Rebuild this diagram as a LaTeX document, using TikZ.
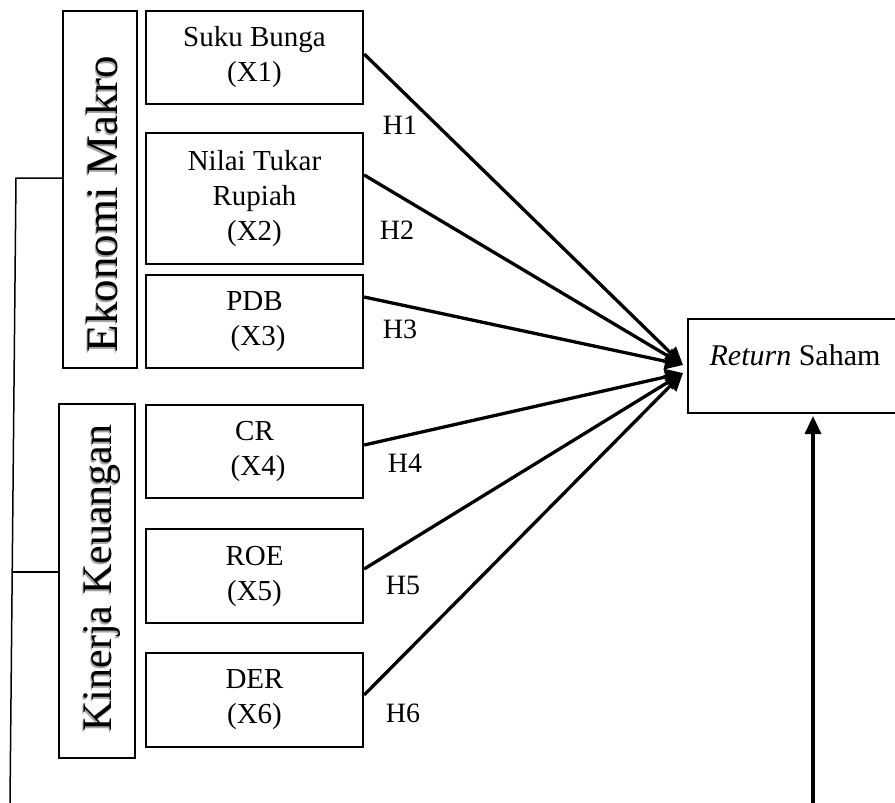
\documentclass[tikz,border=0pt]{standalone}
\usepackage{fontspec}
\setmainfont{Liberation Serif}
\usetikzlibrary{arrows.meta}
\begin{document}
\begin{tikzpicture}[x=1pt,y=-1pt,
  var/.style={draw,line width=2.3pt,minimum width=217pt,align=center,inner sep=0pt,
    font=\fontsize{29}{35}\selectfont},
  grp/.style={draw,line width=2.3pt,inner sep=0pt},
  grptext/.style={rotate=90,inner sep=0pt},
  grpshadow/.style={rotate=90,inner sep=0pt,text=black!35},
  conn/.style={line width=3.3pt,-{Triangle[length=18pt,width=16pt]}},
  hyp/.style={inner sep=0pt,font=\fontsize{28}{30}\selectfont},
  brk/.style={line width=1.5pt}]
\useasboundingbox (0,0) rectangle (895,803);

% group boxes
\node[grp,minimum width=74pt,minimum height=357pt] (g1) at (100,189.5) {};
\node[grpshadow,font=\fontsize{45}{45}\selectfont] (g1s) at (101,206) {Ekonomi Makro};
\node[grptext,font=\fontsize{45}{45}\selectfont] (g1t) at (102.5,204) {Ekonomi Makro};
\node[grp,minimum width=76pt,minimum height=354pt] (g2) at (97,581) {};
\node[grpshadow,font=\fontsize{42}{42}\selectfont] (g2s) at (101,580) {Kinerja Keuangan};
\node[grptext,font=\fontsize{42}{42}\selectfont] (g2t) at (102.5,578) {Kinerja Keuangan};

% variable boxes
\node[var,minimum height=93pt]  (b1) at (254.5,57.5)  {Suku Bunga\\(X1)};
\node[var,minimum height=131pt] (b2) at (254.5,198.5) {Nilai Tukar\\Rupiah\\(X2)};
\node[var,minimum height=93pt]  (b3) at (254.5,321.5) {PDB\\\ (X3)};
\node[var,minimum height=93pt]  (b4) at (254.5,451.5) {CR\\\ (X4)};
\node[var,minimum height=94pt]  (b5) at (254.5,576)   {ROE\\(X5)};
\node[var,minimum height=94pt]  (b6) at (254.5,700)   {DER\\(X6)};

% dependent variable
\node[draw,line width=2.3pt,minimum width=210pt,minimum height=94pt,inner sep=0pt] (ret) at (793,366) {};
\node[inner sep=0pt,font=\fontsize{30}{30}\selectfont] (rett) at (795,355) {\textit{Return} Saham};

% convergence points
\coordinate (t1) at (683,365);
\coordinate (t2) at (683,373);

\draw[conn] ([yshift=3.5pt]b1.east) -- (t1);
\draw[conn] ([yshift=23.5pt]b2.east) -- (t1);
\draw[conn] ([yshift=24.5pt]b3.east) -- (t1);
\draw[conn] ([yshift=6.5pt]b4.east) -- (t2);
\draw[conn] ([yshift=7pt]b5.east) -- (t2);
\draw[conn] ([yshift=5pt]b6.east) -- (t2);

% hypothesis labels
\node[hyp] (h1) at (400,125) {H1};
\node[hyp] (h2) at (397,230) {H2};
\node[hyp] (h3) at (400,329) {H3};
\node[hyp] (h4) at (405,463) {H4};
\node[hyp] (h5) at (403,585) {H5};
\node[hyp] (h6) at (403,713) {H6};

% bracket on the left
\coordinate (bt) at (16,178);
\coordinate (bm) at (12.2,572);
\coordinate (bb) at (10,803);
\draw[brk] (bb) -- (bt) -- (bt -| g1.west);
\draw[brk] (bm) -- (bm -| g2.west);

% arrow from below into Return Saham
\coordinate (ub) at (813,803);
\coordinate (ut) at (813,416);
\draw[conn] (ub) -- (ut);
\end{tikzpicture}
\end{document}
